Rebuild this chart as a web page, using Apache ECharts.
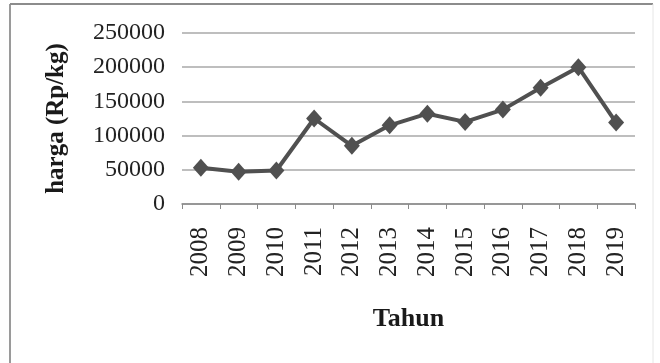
<!DOCTYPE html>
<html>
<head>
<meta charset="utf-8">
<script src="https://cdn.jsdelivr.net/npm/echarts@6/dist/echarts.min.js"></script>
<style>
  html, body { margin: 0; padding: 0; background: #fff; }
  #chart { width: 660px; height: 363px; }
</style>
</head>
<body>
<div id="chart"></div>
<script>
// Harga per tahun (Rp/kg)
var tahun = ['2008', '2009', '2010', '2011', '2012', '2013', '2014', '2015', '2016', '2017', '2018', '2019'];
var harga = [53000, 47000, 49000, 125000, 85000, 115000, 132000, 120000, 138000, 170000, 200000, 119000];
var yTicks = [0, 50000, 100000, 150000, 200000, 250000];

var serif = '"Liberation Serif", "Times New Roman", serif';
var chart = echarts.init(document.getElementById('chart'), null, { renderer: 'canvas' });

chart.setOption({
  backgroundColor: '#ffffff',
  animation: false,
  grid: { left: 182, right: 25, top: 33, bottom: 159 },
  graphic: [
    { type: 'line', shape: { x1: 10, y1: 4, x2: 10, y2: 363 }, style: { stroke: '#9a9a9a', lineWidth: 2 } },
    { type: 'line', shape: { x1: 10, y1: 4, x2: 653, y2: 4 }, style: { stroke: '#8c8c8c', lineWidth: 2 } },
    { type: 'line', shape: { x1: 653, y1: 4, x2: 653, y2: 363 }, style: { stroke: '#e6e6e6', lineWidth: 1 } }
  ],
  xAxis: {
    type: 'category',
    data: tahun,
    boundaryGap: true,
    name: 'Tahun',
    nameLocation: 'middle',
    nameGap: 102,
    nameTextStyle: { fontFamily: serif, fontWeight: 'bold', fontSize: 26, color: '#1a1a1a' },
    axisLine: { show: true, lineStyle: { color: '#8a8a8a', width: 1.5 } },
    axisTick: { show: true, length: 5, alignWithLabel: false, lineStyle: { color: '#8a8a8a', width: 1 } },
    axisLabel: { rotate: 90, margin: 23, fontFamily: serif, fontSize: 25, color: '#222', interval: 0 },
    splitLine: { show: false }
  },
  yAxis: {
    type: 'value',
    min: yTicks[0],
    max: yTicks[yTicks.length - 1],
    interval: yTicks[1] - yTicks[0],
    name: 'harga (Rp/kg)',
    nameLocation: 'middle',
    nameGap: 113,
    nameTextStyle: { fontFamily: serif, fontWeight: 'bold', fontSize: 25, color: '#1a1a1a' },
    axisLine: { show: false },
    axisTick: { show: false },
    axisLabel: {
      margin: 17, fontFamily: serif, fontSize: 24, color: '#222',
      formatter: function (v) { return String(v); }
    },
    splitLine: { show: true, lineStyle: { color: '#a8a8a8', width: 1.5 } }
  },
  series: [{
    type: 'line',
    data: harga,
    symbol: 'diamond',
    symbolSize: [16, 18],
    showSymbol: true,
    lineStyle: { color: '#505050', width: 4 },
    itemStyle: { color: '#505050', borderWidth: 0 }
  }]
});
</script>
</body>
</html>
